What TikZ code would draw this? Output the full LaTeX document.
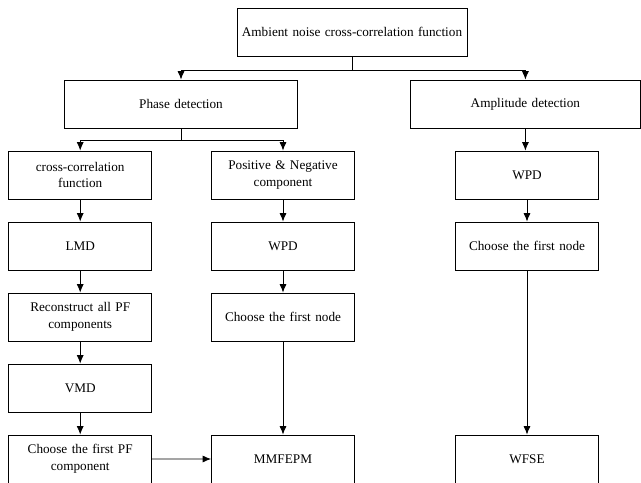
\documentclass[tikz,border=0pt]{standalone}
\usepackage{fontspec}
\setmainfont{Liberation Serif}
\usetikzlibrary{arrows, arrows.meta, positioning, calc}

\begin{document}
\begin{tikzpicture}[node distance=1.775cm, auto, line width=0.6pt]
% styles
\tikzstyle{block} = [rectangle, draw, text width=3.3cm, text centered, minimum width=3.575cm, minimum height=1.2cm, inner sep=1pt, font=\fontsize{9.4}{12}\selectfont]
\tikzstyle{wide} = [block, text width=5.65cm, minimum width=5.75cm]
\tikzstyle{line} = [draw, -{Latex[length=6pt,width=5pt]}]

\useasboundingbox (0,0) rectangle (16.025,-12.075);

% top levels
\node [wide] (ambient) at (8.8,-0.8) {Ambient noise cross-correlation function};
\node [wide, below of=ambient, node distance=1.8cm, xshift=-4.275cm, minimum width=5.825cm] (phase) {Phase detection};
\node [wide, below of=ambient, node distance=1.8cm, xshift=4.335cm] (amplitude) {Amplitude detection};

% left column
\node [block, below of=phase, xshift=-2.52cm] (ccf) {cross-correlation\\function};
\node [block, below of=ccf] (lmd) {LMD};
\node [block, below of=lmd] (reconstruct) {Reconstruct all PF\\components};
\node [block, below of=reconstruct] (vmd) {VMD};
\node [block, below of=vmd] (firstpf) {Choose the first PF\\component};

% middle column
\node [block, below of=phase, xshift=2.55cm] (posneg) {Positive \& Negative\\component};
\node [block, below of=posneg] (wpdB) {WPD};
\node [block, below of=wpdB] (firstnodeB) {Choose the first node};
\node [block, below of=firstnodeB, node distance=3.55cm] (mmfepm) {MMFEPM};

% right column
\node [block, below of=amplitude, xshift=0.04cm] (wpdA) {WPD};
\node [block, below of=wpdA] (firstnodeA) {Choose the first node};
\node [block, below of=firstnodeA, node distance=5.325cm] (wfse) {WFSE};

% connections
\path [line] (ambient.south) -- ++(0,-0.35) -| (phase.north);
\path [line] (ambient.south) -- ++(0,-0.35) -| (amplitude.north);
\path [line] (phase.south) -- ++(0,-0.3) -| (ccf.north);
\path [line] (phase.south) -- ++(0,-0.3) -| (posneg.north);
\path [line] (amplitude.south) -- (wpdA.north -| amplitude.south);
\path [line] (ccf) -- (lmd);
\path [line] (lmd) -- (reconstruct);
\path [line] (reconstruct) -- (vmd);
\path [line] (vmd) -- (firstpf);
\path [line] (posneg) -- (wpdB);
\path [line] (wpdB) -- (firstnodeB);
\path [line] (firstnodeB) -- (mmfepm);
\path [line] (firstpf) -- (mmfepm);
\path [line] (wpdA) -- (firstnodeA);
\path [line] (firstnodeA) -- (wfse);
\end{tikzpicture}
\end{document}
